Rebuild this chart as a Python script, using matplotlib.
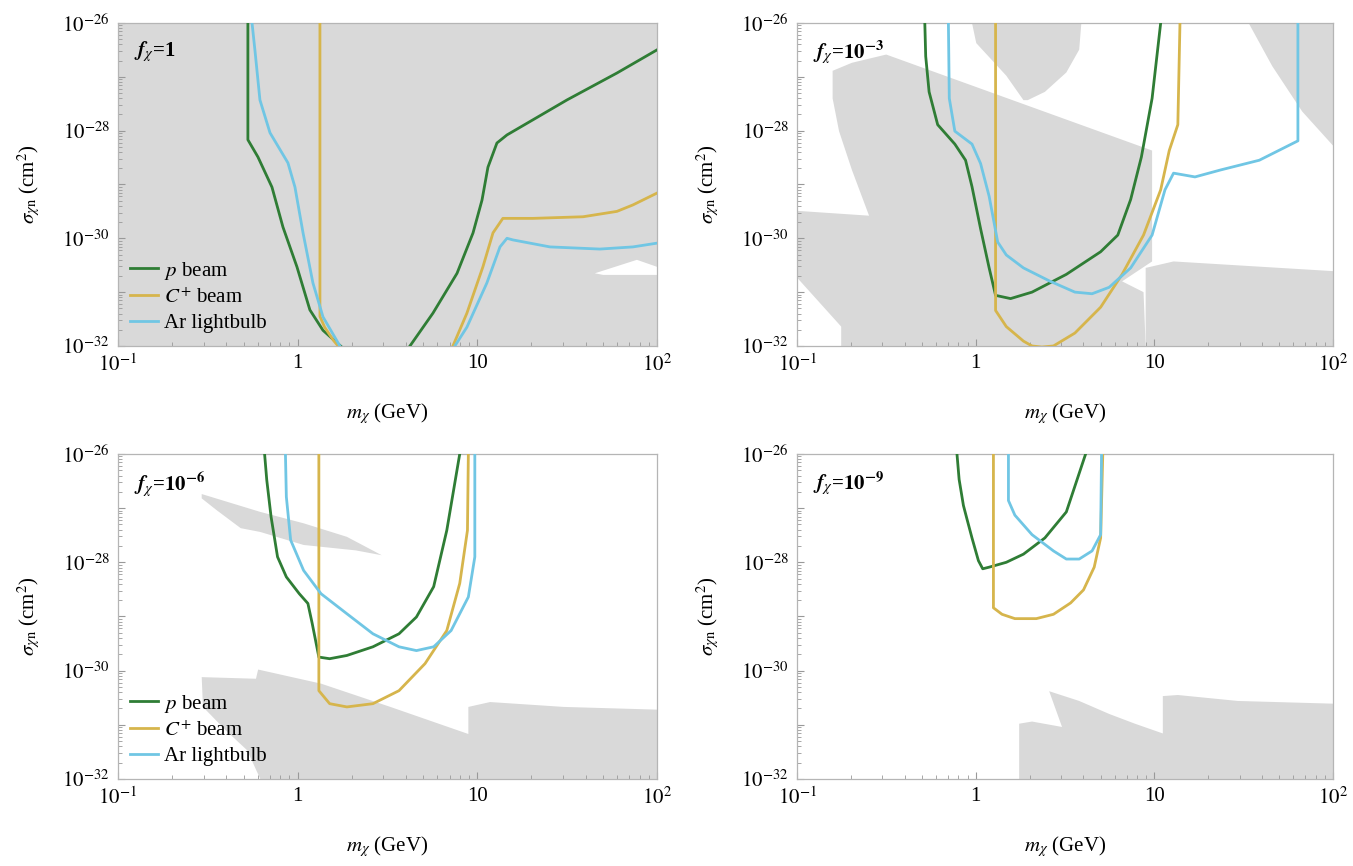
import numpy as np
import matplotlib
matplotlib.use('Agg')
import matplotlib.pyplot as plt
from matplotlib.ticker import LogLocator, NullFormatter

plt.rcParams['font.family'] = ['Liberation Serif', 'DejaVu Serif']
plt.rcParams['mathtext.fontset'] = 'stix'

# all values are log10(m / GeV) and log10(sigma / cm^2); nan breaks a line
labels = ['$p$ beam', '$C^{+}$ beam', 'Ar lightbulb']
colors = ['#2f7d35', '#d6b54c', '#70c6e4']
gray = '#d9d9d9'
panel_names = ['1', '$\\mathbf{10^{-3}}$', '$\\mathbf{10^{-6}}$', '$\\mathbf{10^{-9}}$']

# ---- f = 1 ----
f1_green_x = [-0.277, -0.277, -0.221, -0.143, -0.082, -0.004, 0.068, 0.141, 0.252, 0.30, np.nan,
              0.58, 0.625, 0.753, 0.887, 0.976, 1.026, 1.059, 1.109, 1.165, 1.309, 1.499, 1.777, 2.0]
f1_green_y = [-26.0, -28.17, -28.49, -29.05, -29.79, -30.53, -31.33, -31.71, -32.04, -32.2, np.nan,
              -32.2, -32.0, -31.39, -30.65, -29.9, -29.29, -28.68, -28.23, -28.08, -27.8, -27.43, -26.93, -26.5]
f1_yellow_x = [0.124, 0.124, 0.15, 0.2, 0.25, np.nan,
               0.83, 0.864, 0.942, 1.031, 1.087, 1.142, 1.309, 1.588, 1.777, 1.866, 2.0]
f1_yellow_y = [-26.0, -31.45, -31.65, -31.9, -32.1, np.nan,
               -32.2, -32.0, -31.39, -30.53, -29.9, -29.63, -29.63, -29.6, -29.5, -29.38, -29.16]
f1_blue_x = [-0.254, -0.238, -0.21, -0.154, -0.054, -0.015, 0.03, 0.085, 0.141, 0.235, 0.27, np.nan,
             0.85, 0.875, 0.942, 1.053, 1.126, 1.165, 1.198, 1.404, 1.682, 1.866, 2.0]
f1_blue_y = [-26.0, -26.5, -27.43, -28.04, -28.6, -29.05, -29.9, -30.83, -31.46, -32.0, -32.2, np.nan,
             -32.2, -32.0, -31.65, -30.83, -30.16, -30.0, -30.03, -30.16, -30.2, -30.16, -30.09]
f1_white_x = [1.654, 1.888, 2.0, 2.0, 1.70]
f1_white_y = [-30.65, -30.40, -30.53, -30.68, -30.68]

# ---- f = 1e-3 ----
f3_green_x = [-0.285, -0.280, -0.261, -0.213, -0.117, -0.057, -0.021, 0.027, 0.075, 0.111, 0.195,
              0.315, 0.507, 0.699, 0.795, 0.867, 0.927, 0.987, 1.035]
f3_green_y = [-26.0, -26.62, -27.28, -27.89, -28.25, -28.55, -29.04, -29.82, -30.55, -31.06, -31.12,
              -31.0, -30.67, -30.25, -29.94, -29.28, -28.49, -27.40, -26.0]
f3_yellow_x = [0.111, 0.111, 0.171, 0.267, 0.315, 0.37, 0.435, 0.555, 0.699, 0.819, 0.939, 1.035,
               1.083, 1.131, 1.143]
f3_yellow_y = [-26.0, -31.34, -31.64, -31.91, -32.0, -32.02, -32.0, -31.76, -31.28, -30.67, -29.94,
               -29.10, -28.37, -27.89, -26.0]
f3_blue_x = [-0.153, -0.148, -0.117, -0.021, 0.027, 0.075, 0.123, 0.171, 0.267, 0.411, 0.555, 0.651,
             0.747, 0.867, 0.987, 1.059, 1.107, 1.227, 1.371, 1.587, 1.803, 1.803]
f3_blue_y = [-26.0, -27.40, -28.01, -28.25, -28.61, -29.22, -30.07, -30.31, -30.55, -30.79, -31.0,
             -31.03, -30.91, -30.55, -29.94, -29.10, -28.79, -28.86, -28.73, -28.55, -28.19, -26.0]
f3_gray_big_x = [-0.801, -0.693, -0.501, 0.987, 0.987, 0.819, 0.939, 0.951, -0.753, -0.753, -1.0,
                 -1.0, -0.597, -0.693, -0.765, -0.801]
f3_gray_big_y = [-26.889, -26.74, -26.587, -28.37, -30.43, -30.80, -31.0, -32.0, -32.0, -31.64, -30.73,
                 -29.49, -29.58, -28.73, -28.01, -27.40]
f3_gray_right_x = [0.951, 0.951, 1.107, 2.0, 2.0]
f3_gray_right_y = [-32.0, -30.55, -30.43, -30.61, -32.0]
f3_gray_mid_x = [-0.021, 0.003, 0.171, 0.267, 0.291, 0.387, 0.507, 0.579, 0.591]
f3_gray_mid_y = [-26.0, -26.375, -26.98, -27.434, -27.434, -27.28, -26.92, -26.496, -26.0]
f3_gray_corner_x = [1.527, 1.659, 1.827, 2.0, 2.0]
f3_gray_corner_y = [-26.0, -26.80, -27.645, -28.28, -26.0]

# ---- f = 1e-6 ----
f6_green_x = [-0.184, -0.172, -0.148, -0.112, -0.063, 0.009, 0.057, 0.081, 0.118, 0.178, 0.274, 0.419,
              0.564, 0.661, 0.757, 0.830, 0.902]
f6_green_y = [-26.0, -26.48, -27.16, -27.90, -28.27, -28.58, -28.76, -29.13, -29.75, -29.78, -29.72,
              -29.56, -29.32, -29.01, -28.45, -27.41, -26.0]
f6_yellow_x = [0.118, 0.118, 0.178, 0.274, 0.419, 0.564, 0.709, 0.830, 0.902, 0.945, 0.950]
f6_yellow_y = [-26.0, -30.37, -30.61, -30.67, -30.61, -30.37, -29.87, -29.26, -28.39, -27.41, -26.0]
f6_blue_x = [-0.068, -0.063, -0.039, 0.033, 0.130, 0.274, 0.419, 0.564, 0.661, 0.757, 0.854, 0.950,
             0.986, 0.986]
f6_blue_y = [-26.0, -26.79, -27.59, -28.15, -28.58, -28.95, -29.32, -29.56, -29.63, -29.56, -29.26,
             -28.64, -27.90, -26.0]
f6_gray_top_x = [-0.534, -0.208, 0.033, 0.274, 0.468, 0.323, 0.033, -0.208, -0.317, -0.450, -0.534]
f6_gray_top_y = [-26.74, -27.07, -27.28, -27.53, -27.87, -27.78, -27.68, -27.44, -27.37, -27.04, -26.82]
f6_gray_low_x = [-0.534, -0.232, -0.220, 0.130, 0.516, 0.950, 0.950, 1.071, 1.481, 2.0, 2.0,
                 -0.208, -0.281, -0.401, -0.527]
f6_gray_low_y = [-30.12, -30.15, -29.98, -30.24, -30.67, -31.17, -30.67, -30.58, -30.67, -30.72, -32.0,
                 -32.0, -31.47, -31.10, -30.67]

# ---- f = 1e-9 ----
f9_green_x = [-0.105, -0.093, -0.069, -0.050, -0.021, 0.015, 0.039, 0.075, 0.171, 0.267, 0.387, 0.507,
              0.615]
f9_green_y = [-26.0, -26.47, -26.95, -27.19, -27.55, -27.97, -28.12, -28.09, -28.0, -27.85, -27.55,
              -27.07, -26.0]
f9_yellow_x = [0.099, 0.099, 0.147, 0.219, 0.339, 0.435, 0.531, 0.603, 0.663, 0.699, 0.711]
f9_yellow_y = [-26.0, -28.84, -28.96, -29.04, -29.04, -28.96, -28.75, -28.51, -28.09, -27.55, -26.0]
f9_blue_x = [0.183, 0.183, 0.219, 0.315, 0.435, 0.507, 0.579, 0.651, 0.699, 0.704]
f9_blue_y = [-26.0, -26.86, -27.13, -27.49, -27.79, -27.94, -27.94, -27.79, -27.49, -26.0]
f9_gray_x = [0.243, 0.243, 0.315, 0.483, 0.411, 0.579, 0.747, 0.891, 1.047, 1.047, 1.131, 1.467,
             2.0, 2.0]
f9_gray_y = [-32.0, -30.98, -30.94, -31.04, -30.38, -30.56, -30.80, -30.98, -31.16, -30.47, -30.45,
             -30.56, -30.61, -32.0]

panels = [
    dict(curves=[(f1_green_x, f1_green_y), (f1_yellow_x, f1_yellow_y), (f1_blue_x, f1_blue_y)],
         gray=[], white=[(f1_white_x, f1_white_y)], bg=gray, legend=True),
    dict(curves=[(f3_green_x, f3_green_y), (f3_yellow_x, f3_yellow_y), (f3_blue_x, f3_blue_y)],
         gray=[(f3_gray_big_x, f3_gray_big_y), (f3_gray_right_x, f3_gray_right_y),
               (f3_gray_mid_x, f3_gray_mid_y), (f3_gray_corner_x, f3_gray_corner_y)],
         white=[], bg='white', legend=False),
    dict(curves=[(f6_green_x, f6_green_y), (f6_yellow_x, f6_yellow_y), (f6_blue_x, f6_blue_y)],
         gray=[(f6_gray_top_x, f6_gray_top_y), (f6_gray_low_x, f6_gray_low_y)],
         white=[], bg='white', legend=True),
    dict(curves=[(f9_green_x, f9_green_y), (f9_yellow_x, f9_yellow_y), (f9_blue_x, f9_blue_y)],
         gray=[(f9_gray_x, f9_gray_y)], white=[], bg='white', legend=False),
]

boxes = [[0.0872, 0.6005, 0.3984, 0.3730], [0.5891, 0.6005, 0.3962, 0.3730],
         [0.0872, 0.1005, 0.3984, 0.3753], [0.5891, 0.1005, 0.3962, 0.3753]]

fig = plt.figure(figsize=(13.53, 8.66), dpi=100)

for i, p in enumerate(panels):
    ax = fig.add_axes(boxes[i])
    ax.set_xscale('log')
    ax.set_yscale('log')
    ax.set_facecolor(p['bg'])
    for gx, gy in p['gray']:
        ax.fill(10**np.array(gx), 10**np.array(gy), color=gray, lw=0, zorder=1)
    for wx, wy in p['white']:
        ax.fill(10**np.array(wx), 10**np.array(wy), color='white', lw=0, zorder=1)
    for (cx, cy), c, lab in zip(p['curves'], colors, labels):
        ax.plot(10**np.array(cx), 10**np.array(cy), color=c, lw=2.0, label=lab, zorder=3,
                solid_joinstyle='round')
    ax.set_xlim(0.1, 100)
    ax.set_ylim(1e-32, 1e-26)
    ax.set_xticks([0.1, 1, 10, 100])
    ax.set_xticklabels(['$10^{-1}$', '1', '10', '$10^{2}$'])
    ax.set_yticks([1e-32, 1e-31, 1e-30, 1e-29, 1e-28, 1e-27, 1e-26])
    ax.set_yticklabels(['$10^{-32}$', '', '$10^{-30}$', '', '$10^{-28}$', '', '$10^{-26}$'])
    ax.xaxis.set_minor_locator(LogLocator(base=10, subs=np.arange(2, 10)))
    ax.yaxis.set_minor_locator(LogLocator(base=10, subs=np.arange(2, 10), numticks=20))
    ax.xaxis.set_minor_formatter(NullFormatter())
    ax.yaxis.set_minor_formatter(NullFormatter())
    ax.tick_params(which='both', direction='in', color='#999999', labelsize=15, pad=6)
    ax.tick_params(which='major', length=5, width=0.8)
    ax.tick_params(which='minor', length=3, width=0.6)
    for s in ax.spines.values():
        s.set_color('#b5b5b5')
        s.set_linewidth(0.9)
    ax.set_xlabel('$m_{\\chi}$ (GeV)', fontsize=15, labelpad=18)
    ax.set_ylabel('$\\sigma_{\\chi\\mathrm{n}}$ (cm$^{2}$)', fontsize=15, labelpad=14)
    ax.text(0.03, 0.95, '$\\mathbfit{f}_{\\chi}$=' + panel_names[i], fontweight='bold',
            transform=ax.transAxes, fontsize=15, va='top', ha='left', zorder=5)
    if p['legend']:
        ax.legend(loc='lower left', frameon=False, fontsize=15, handlelength=1.3,
                  handletextpad=0.3, labelspacing=0.3, borderaxespad=0.2,
                  bbox_to_anchor=(0.0, 0.0))

fig.savefig('out.png', dpi=100)
